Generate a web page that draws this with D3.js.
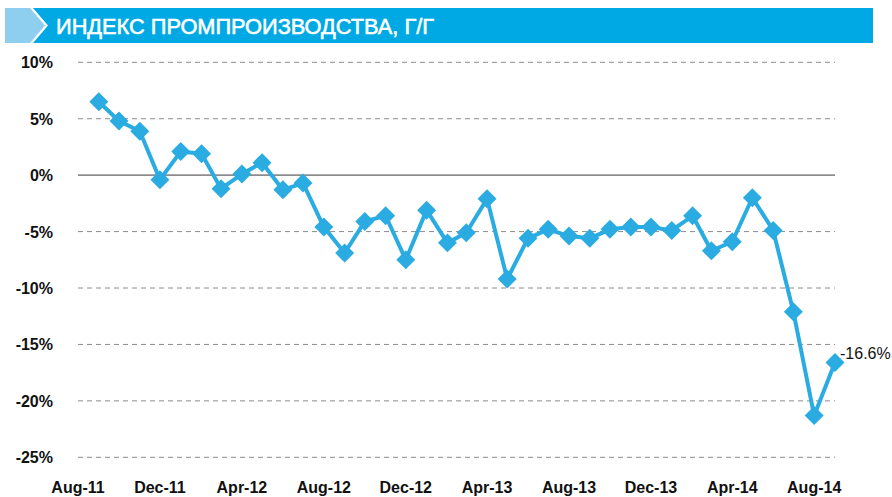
<!DOCTYPE html>
<html>
<head>
<meta charset="utf-8">
<script src="https://cdn.jsdelivr.net/npm/d3@7"></script>
<style>
  body { margin: 0; background: #fff; }
  svg { display: block; }
</style>
</head>
<body>
<svg id="chart" width="892" height="497"></svg>
<script>
// monthly data, Sep-11 .. Sep-14
const months = ["2011-09","2011-10","2011-11","2011-12","2012-01","2012-02","2012-03","2012-04",
  "2012-05","2012-06","2012-07","2012-08","2012-09","2012-10","2012-11","2012-12","2013-01",
  "2013-02","2013-03","2013-04","2013-05","2013-06","2013-07","2013-08","2013-09","2013-10",
  "2013-11","2013-12","2014-01","2014-02","2014-03","2014-04","2014-05","2014-06","2014-07",
  "2014-08","2014-09"];
const values = [6.5, 4.8, 3.9, -0.4, 2.1, 1.9, -1.2, 0.1, 1.1, -1.3, -0.7, -4.6, -6.9, -4.1,
  -3.6, -7.5, -3.1, -6.0, -5.1, -2.1, -9.2, -5.6, -4.8, -5.4, -5.6, -4.8, -4.6, -4.6, -4.9,
  -3.6, -6.7, -5.9, -2.0, -4.9, -12.1, -21.3, -16.6];
const yTicks = [10, 5, 0, -5, -10, -15, -20, -25];
const xTickLabels = ["Aug-11","Dec-11","Apr-12","Aug-12","Dec-12","Apr-13","Aug-13","Dec-13","Apr-14","Aug-14"];
const title = "ИНДЕКС ПРОМПРОИЗВОДСТВА, Г/Г";
const lastLabel = "-16.6%";

const parseMonth = d3.timeParse("%Y-%m");
const parseTick = d3.timeParse("%b-%y");
const data = months.map((m, i) => ({ date: parseMonth(m), value: values[i] }));

const svg = d3.select("#chart");

// header banner
const banner = svg.append("g");
banner.append("path")
  .attr("d", "M5,8 L30,8 L45,25.5 L30,43 L5,43 Z")
  .attr("fill", "#8ecff0");
banner.append("path")
  .attr("d", "M33,8 L873,8 L873,43 L33,43 L48,25.5 Z")
  .attr("fill", "#00a9e3");
banner.append("text")
  .attr("x", 56).attr("y", 34)
  .attr("fill", "#fff")
  .attr("stroke", "#fff")
  .attr("stroke-width", 0.6)
  .attr("font-family", "'Liberation Sans Narrow', 'Arial Narrow', 'Liberation Sans', sans-serif")
  .attr("font-size", 22)
  .attr("textLength", 378)
  .attr("lengthAdjust", "spacingAndGlyphs")
  .text(title);

const x = d3.scaleTime()
  .domain([parseMonth("2011-08"), parseMonth("2014-09")])
  .range([78, 835]);
const y = d3.scaleLinear().domain([-25, 10]).range([457.3, 62.3]);

// grid
svg.append("g").selectAll("line")
  .data(yTicks)
  .join("line")
  .attr("x1", x.range()[0]).attr("x2", x.range()[1])
  .attr("y1", d => y(d)).attr("y2", d => y(d))
  .attr("stroke", "#8c8c8c")
  .attr("stroke-width", d => d === 0 ? 1.6 : 1)
  .attr("stroke-dasharray", d => d === 0 ? null : "5,4");

// y labels
svg.append("g").selectAll("text")
  .data(yTicks)
  .join("text")
  .attr("x", 53).attr("y", d => y(d) + 6)
  .attr("text-anchor", "end")
  .attr("font-family", "'Liberation Sans', Arial, sans-serif")
  .attr("font-weight", "bold")
  .attr("font-size", 16)
  .attr("fill", "#111")
  .text(d => d + "%");

// x labels
svg.append("g").selectAll("text")
  .data(xTickLabels)
  .join("text")
  .attr("x", d => x(parseTick(d)))
  .attr("y", 493)
  .attr("text-anchor", "middle")
  .attr("font-family", "'Liberation Sans', Arial, sans-serif")
  .attr("font-weight", "bold")
  .attr("font-size", 16)
  .attr("fill", "#111")
  .text(d => d);

// line + markers
const line = d3.line().x(d => x(d.date)).y(d => y(d.value));
svg.append("path")
  .datum(data)
  .attr("d", line)
  .attr("fill", "none")
  .attr("stroke", "#2aace2")
  .attr("stroke-width", 4)
  .attr("stroke-linejoin", "round");

svg.append("g").selectAll("path")
  .data(data)
  .join("path")
  .attr("d", d3.symbol(d3.symbolSquare, 180))
  .attr("transform", d => `translate(${x(d.date)},${y(d.value)}) rotate(45)`)
  .attr("fill", "#2aace2");

// last value label
const last = data[data.length - 1];
svg.append("text")
  .attr("x", x(last.date) + 5)
  .attr("y", y(last.value) - 4)
  .attr("font-family", "'Liberation Sans', Arial, sans-serif")
  .attr("font-size", 16)
  .attr("fill", "#111")
  .text(lastLabel);
</script>
</body>
</html>
